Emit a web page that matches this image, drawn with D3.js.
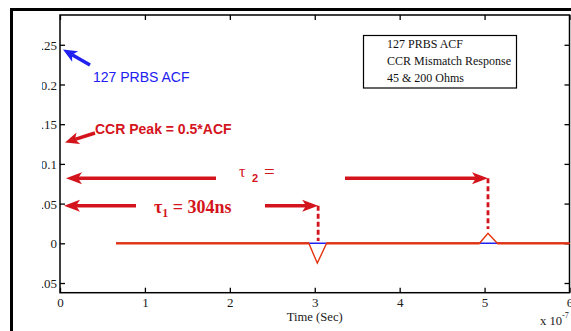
<!DOCTYPE html>
<html><head><meta charset="utf-8">
<script src="https://cdn.jsdelivr.net/npm/d3@7"></script>
<style>body{margin:0;background:#fff}svg{display:block}</style>
</head><body>
<script>
const xTicks = [0, 1, 2, 3, 4, 5, 6];
const yTicks = [-0.05, 0, 0.05, 0.1, 0.15, 0.2, 0.25];
const acfX = [0.66, 2.93, 3.14, 4.94, 5.15, 6];
const acfY = [0, 0, 0, 0, 0, 0];
const ccrX = [0.66, 2.93, 3.03, 3.14, 4.94, 5.04, 5.15, 6];
const ccrY = [0, 0, -0.025, 0, 0, 0.0126, 0, 0];
const legendLines = ["127 PRBS ACF", "CCR Mismatch Response", "45 & 200 Ohms"];
const tau1X = 3.04, tau2X = 5.04;
const tau1Y = 0.0473, tau2Y = 0.0818;

const W = 571, H = 331;
const svg = d3.select("body").append("svg").attr("width", W).attr("height", H);
const x = d3.scaleLinear().domain([0, 6]).range([60, 569.5]);
const y = d3.scaleLinear().domain([-0.0622, 0.2875]).range([292.7, 15]);
const serif = "'Liberation Serif','Times New Roman',serif";
const sans = "'Liberation Sans',Arial,sans-serif";
const RED = "#d4141c", LINE = "#e4340e", BLUE = "#2020f0";

// outer frame
svg.append("path").attr("d", `M11.5,${H} L11.5,9.5 L${W},9.5`).attr("fill", "none").attr("stroke", "#000").attr("stroke-width", 3);

// plot box
const x0 = x(0), x1 = x(6), yT = y.range()[1], yB = y.range()[0];
svg.append("rect").attr("x", x0).attr("y", yT).attr("width", x1 - x0).attr("height", yB - yT)
  .attr("fill", "none").attr("stroke", "#000").attr("stroke-width", 1.5);

// axes
const fmtY = d => d === 0 ? "0" : d3.format(".2~f")(d);
svg.append("clipPath").attr("id", "yclip").append("rect").attr("x", 42).attr("y", 0).attr("width", 40).attr("height", H);
const ax = svg.append("g").attr("transform", `translate(0,${yB})`)
  .call(d3.axisBottom(x).tickValues(xTicks).tickSize(-5).tickPadding(5).tickFormat(d3.format("d")));
const axT = svg.append("g").attr("transform", `translate(0,${yT})`)
  .call(d3.axisTop(x).tickValues(xTicks).tickSize(-5).tickFormat(""));
const ay = svg.append("g").attr("clip-path", "url(#yclip)").append("g").attr("transform", `translate(${x0},0)`)
  .call(d3.axisLeft(y).tickValues(yTicks).tickSize(-5).tickPadding(3).tickFormat(fmtY));
const ayR = svg.append("g").attr("transform", `translate(${x1},0)`)
  .call(d3.axisRight(y).tickValues(yTicks).tickSize(-5).tickFormat(""));
[ax, axT, ay, ayR].forEach(g => {
  g.select(".domain").remove();
  g.selectAll("line").attr("stroke", "#000").attr("stroke-width", 1.3);
  g.selectAll("text").attr("font-family", serif).attr("font-size", 13).attr("fill", "#1a1a1a");
});
ay.selectAll("text").attr("dy", "0.35em");

// labels
svg.append("text").attr("x", x(3)).attr("y", 321).attr("text-anchor", "middle")
  .attr("font-family", serif).attr("font-size", 12.6).attr("fill", "#1a1a1a").text("Time (Sec)");
const xl = svg.append("text").attr("x", 540).attr("y", 325).attr("font-family", serif).attr("font-size", 12.6).attr("fill", "#1a1a1a");
xl.append("tspan").text("x 10");
xl.append("tspan").attr("dy", -7).attr("font-size", 8).text("-7");

// series
const line = d3.line().x(d => x(d[0])).y(d => y(d[1]));
svg.append("path").datum(d3.zip(acfX, acfY)).attr("d", line).attr("fill", "none").attr("stroke", BLUE).attr("stroke-width", 1.5);
svg.append("path").datum(d3.zip(ccrX, ccrY)).attr("d", line).attr("fill", "none").attr("stroke", LINE).attr("stroke-width", 1.4);
// thicker flat runs of the CCR series
[[0, 1], [3, 4], [6, 7]].forEach(([a, b]) =>
  svg.append("line").attr("x1", x(ccrX[a])).attr("x2", x(ccrX[b])).attr("y1", y(ccrY[a])).attr("y2", y(ccrY[b]))
    .attr("stroke", LINE).attr("stroke-width", 2.2));

// legend
svg.append("rect").attr("x", 363.5).attr("y", 35.5).attr("width", 153).attr("height", 52.5)
  .attr("fill", "#fff").attr("stroke", "#000").attr("stroke-width", 1.2);
legendLines.forEach((t, i) => svg.append("text").attr("x", 387).attr("y", 48 + i * 16.8)
  .attr("font-family", serif).attr("font-size", 12).attr("fill", "#111").text(t));

// arrow helper: thick shaft + notched head at (tx,ty)
function arrow(fx, fy, tx, ty, color, w, hl, hw) {
  const ang = Math.atan2(ty - fy, tx - fx);
  const c = Math.cos(ang), s = Math.sin(ang);
  const bx = tx - c * hl * 0.75, by = ty - s * hl * 0.75;
  svg.append("line").attr("x1", fx).attr("y1", fy).attr("x2", bx).attr("y2", by)
    .attr("stroke", color).attr("stroke-width", w);
  const p = [[tx, ty],
    [tx - c * hl + s * hw, ty - s * hl - c * hw],
    [bx, by],
    [tx - c * hl - s * hw, ty - s * hl + c * hw]];
  svg.append("path").attr("d", "M" + p.join("L") + "Z").attr("fill", color);
}

// annotations
arrow(90, 65, 63, 49.5, BLUE, 3.5, 14, 6);
svg.append("text").attr("x", 93).attr("y", 82).attr("font-family", sans).attr("font-size", 14)
  .attr("fill", BLUE).text("127 PRBS ACF");
arrow(95, 133, 65, 142.5, RED, 3.5, 14, 6);
svg.append("text").attr("x", 95).attr("y", 133.5).attr("font-family", sans).attr("font-size", 14)
  .attr("font-weight", "bold").attr("fill", RED).text("CCR Peak = 0.5*ACF");

const ya2 = y(tau2Y), ya1 = y(tau1Y);
arrow(216, ya2, 66, ya2, RED, 3.5, 16, 6);
arrow(345, ya2, x(tau2X), ya2, RED, 3.5, 16, 6);
const t2 = svg.append("g").attr("fill", RED);
t2.append("text").attr("x", 239).attr("y", 177).attr("font-family", serif).attr("font-size", 16).text("τ");
t2.append("text").attr("x", 252).attr("y", 182).attr("font-family", sans).attr("font-weight", "bold").attr("font-size", 11).text("2");
t2.append("text").attr("x", 264).attr("y", 178).attr("font-family", serif).attr("font-size", 19).text("=");

arrow(136, ya1, 64, ya1, RED, 3.5, 16, 6);
arrow(265, ya1, x(tau1X), ya1, RED, 3.5, 16, 6);
const t1 = svg.append("text").attr("x", 154).attr("y", 213).attr("font-family", serif)
  .attr("font-weight", "bold").attr("font-size", 18).attr("fill", RED);
t1.append("tspan").text("τ");
t1.append("tspan").attr("dy", 4).attr("font-size", 12).text("1");
t1.append("tspan").attr("dy", -4).text(" = 304ns");

// dashed drops
svg.append("line").attr("x1", x(tau1X)).attr("x2", x(tau1X)).attr("y1", ya1).attr("y2", 241)
  .attr("stroke", RED).attr("stroke-width", 2.8).attr("stroke-dasharray", "5,3");
svg.append("line").attr("x1", x(tau2X)).attr("x2", x(tau2X)).attr("y1", ya2).attr("y2", 229)
  .attr("stroke", RED).attr("stroke-width", 2.8).attr("stroke-dasharray", "5,3");
</script>
</body></html>
